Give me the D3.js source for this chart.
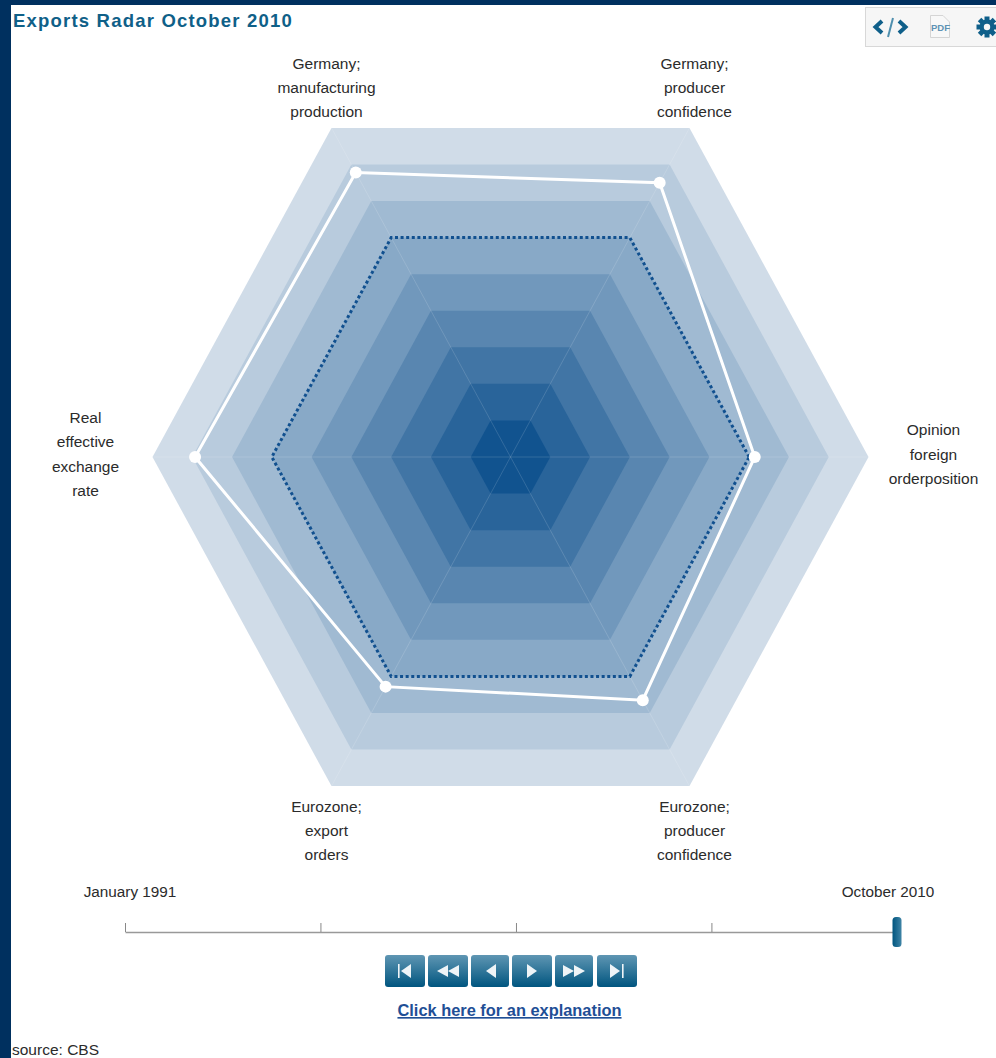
<!DOCTYPE html>
<html><head><meta charset="utf-8">
<script src="https://cdn.jsdelivr.net/npm/d3@7/dist/d3.min.js"></script>
<style>
html,body{margin:0;padding:0;background:#fff;overflow:hidden}
svg{display:block}
text{font-family:"Liberation Sans",Arial,sans-serif}
</style></head><body>
<svg id="c" width="996" height="1058"></svg>
<script>
const titleText = "Exports Radar October 2010";
const axisLabels = [
  ["Opinion","foreign","orderposition"],
  ["Germany;","producer","confidence"],
  ["Germany;","manufacturing","production"],
  ["Real","effective","exchange","rate"],
  ["Eurozone;","export","orders"],
  ["Eurozone;","producer","confidence"]
];
const currentValues = [6.14, 7.5, 7.78, 7.93, 6.28, 6.65];
const neutralValues = [6, 6, 6, 6, 6, 6];
const ringLevels = [9,8,7,6,5,4,3,2,1];
const sliderTicks = [new Date(1991,0,1), new Date(1996,0,1), new Date(2001,0,1), new Date(2006,0,1)];
const sliderStart = new Date(1991,0,1);
const sliderEnd = new Date(2010,9,1);
const sliderStartLabel = "January 1991";
const sliderEndLabel = "October 2010";
const linkText = "Click here for an explanation";
const sourceText = "source: CBS";

const svg = d3.select("#c");
const cx = 510.5, cy = 457;
const rx = d3.scaleLinear().domain([0,9]).range([0,358]);
const ry = d3.scaleLinear().domain([0,9]).range([0,380]);
const ringColor = d3.scaleLinear().domain([1,9]).range(["#11538f","#d0dce8"]);
const angles = axisLabels.map((d,i)=> i*Math.PI/3);
const px = (v,i)=> cx + Math.cos(angles[i])*rx(v);
const py = (v,i)=> cy - Math.sin(angles[i])*ry(v);
const line = d3.line().x((d,i)=>px(d,i)).y((d,i)=>py(d,i)).curve(d3.curveLinearClosed);

// page frame
svg.append("rect").attr("x",0).attr("y",0).attr("width",996).attr("height",5).attr("fill","#00305f");
svg.append("rect").attr("x",0).attr("y",0).attr("width",11).attr("height",1058).attr("fill","#00305f");

svg.append("text").attr("x",13).attr("y",27).attr("font-size",18.5).attr("font-weight","bold")
  .attr("letter-spacing",1.2).attr("fill","#0f6088").text(titleText);

// rings
svg.append("g").selectAll("path").data(ringLevels).join("path")
  .attr("d",l=>line(axisLabels.map(()=>l)))
  .attr("fill",l=>ringColor(l));

// spokes
svg.append("g").selectAll("line").data(axisLabels).join("line")
  .attr("x1",cx).attr("y1",cy)
  .attr("x2",(d,i)=>px(9,i)).attr("y2",(d,i)=>py(9,i))
  .attr("stroke","#fff").attr("stroke-opacity",0.14).attr("stroke-width",1);

// neutral dotted
svg.append("path").attr("d",line(neutralValues)).attr("fill","none")
  .attr("stroke","#11508f").attr("stroke-width",3).attr("stroke-dasharray","3 2.6");

// current
svg.append("path").attr("d",line(currentValues)).attr("fill","none")
  .attr("stroke","#fff").attr("stroke-width",3);
svg.append("g").selectAll("circle").data(currentValues).join("circle")
  .attr("cx",(d,i)=>px(d,i)).attr("cy",(d,i)=>py(d,i)).attr("r",6).attr("fill","#fff");

// labels
const lineH = 24.3;
const lab = svg.append("g").attr("font-size",15.5).attr("fill","#2b2b2b").attr("text-anchor","middle");
axisLabels.forEach((lines,i)=>{
  const side = i%3===0;
  const lx = side ? (cx + Math.cos(angles[i])*(i===0?423:425)) : cx + Math.sign(Math.cos(angles[i]))*184;
  const ly = side ? cy-2.5 : cy - Math.sign(Math.sin(angles[i]))*369 + (i>3?5:0);
  const y0 = ly - (lines.length-1)*lineH/2;
  lab.append("text").selectAll("tspan").data(lines).join("tspan")
    .attr("x",lx).attr("y",(d,j)=>y0+j*lineH+5).text(d=>d);
});

// slider
const tx = d3.scaleTime().domain([sliderStart,sliderEnd]).range([125,897]);
const ax = d3.axisTop(tx).tickValues(sliderTicks).tickFormat("").tickSize(9).tickSizeOuter(0);
const ag = svg.append("g").attr("transform","translate(0,932)").call(ax);
ag.select(".domain").attr("stroke","#999").attr("stroke-width",1.6);
ag.selectAll(".tick line").attr("stroke","#888");
svg.append("text").attr("x",tx(sliderStart)+5).attr("y",897).attr("font-size",15.3).attr("fill","#2b2b2b").attr("text-anchor","middle").text(sliderStartLabel);
svg.append("text").attr("x",tx(sliderEnd)-9).attr("y",897).attr("font-size",15.3).attr("fill","#2b2b2b").attr("text-anchor","middle").text(sliderEndLabel);

const defs = svg.append("defs");
const g1 = defs.append("linearGradient").attr("id","btn").attr("x1",0).attr("y1",0).attr("x2",0).attr("y2",1);
g1.append("stop").attr("offset","0").attr("stop-color","#5f96b3");
g1.append("stop").attr("offset","1").attr("stop-color","#00557f");
const g2 = defs.append("linearGradient").attr("id","hdl").attr("x1",0).attr("y1",0).attr("x2",1).attr("y2",0);
g2.append("stop").attr("offset","0").attr("stop-color","#00557f");
g2.append("stop").attr("offset","1").attr("stop-color","#3f84a6");
svg.append("rect").attr("x",tx(sliderEnd)-4.5).attr("y",917).attr("width",9).attr("height",30).attr("rx",3.5).attr("fill","url(#hdl)");

// buttons: [x,width,icon]
const buttons = [[385,40,"first"],[428,40,"rew"],[471,38,"prev"],[512,40,"play"],[555,38,"fwd"],[597,40,"last"]];
const bg = svg.append("g");
buttons.forEach(([x,w,k])=>{
  const g = bg.append("g").attr("transform",`translate(${x},955)`);
  g.append("rect").attr("x",0).attr("y",0).attr("width",w).attr("height",32).attr("rx",3).attr("fill","url(#btn)");
  const m = w/2, c = 16, ic = g.append("g").attr("fill","#eef4f7");
  const tri = (x0,dir,h=7,l=10)=> ic.append("path").attr("d",`M${x0},${c-h}L${x0+dir*l},${c}L${x0},${c+h}Z`);
  const bar = (x0)=> ic.append("rect").attr("x",x0).attr("y",c-7).attr("width",1.6).attr("height",14);
  if(k==="first"){bar(m-7);tri(m+6,-1);}
  if(k==="rew"){tri(m,-1,6,11);tri(m+11,-1,6,11);}
  if(k==="prev"){tri(m+6,-1);}
  if(k==="play"){tri(m-5,1);}
  if(k==="fwd"){tri(m-11,1,6,11);tri(m,1,6,11);}
  if(k==="last"){tri(m-7,1);bar(m+5);}
});

svg.append("text").attr("x",509.5).attr("y",1016).attr("font-size",16.4).attr("font-weight","bold")
  .attr("text-anchor","middle").attr("fill","#1f4f96").attr("text-decoration","underline").text(linkText);
svg.append("text").attr("x",12).attr("y",1055).attr("font-size",15.5).attr("fill","#2b2b2b").text(sourceText);

// toolbar
const tb = svg.append("g");
tb.append("rect").attr("x",865.5).attr("y",7.5).attr("width",140).attr("height",39).attr("fill","#f6f6f6").attr("stroke","#d8d8d8");
tb.append("path").attr("d","M882,21L875.5,27L882,33M899,21L905.5,27L899,33").attr("fill","none").attr("stroke","#0f5f8a").attr("stroke-width",4);
tb.append("path").attr("d","M893,18L888,37").attr("fill","none").attr("stroke","#4f8fae").attr("stroke-width",2);
tb.append("path").attr("d","M930.5,15.5H943L949.5,22V37.5H930.5Z").attr("fill","#f8f8f8").attr("stroke","#d5d5d5");
tb.append("text").attr("x",931).attr("y",31).attr("font-size",9.5).attr("font-weight","bold").attr("fill","#5f93b5").text("PDF");
const gear = tb.append("g").attr("transform","translate(987,27)");
gear.selectAll("rect").data(d3.range(4)).join("rect")
  .attr("x",-2.5).attr("y",-10.5).attr("width",5).attr("height",21)
  .attr("transform",d=>`rotate(${d*45})`).attr("fill","#0f5f8a");
gear.append("circle").attr("r",7.5).attr("fill","#0f5f8a");
gear.append("circle").attr("r",3.2).attr("fill","#f6f6f6");
</script>
</body></html>
